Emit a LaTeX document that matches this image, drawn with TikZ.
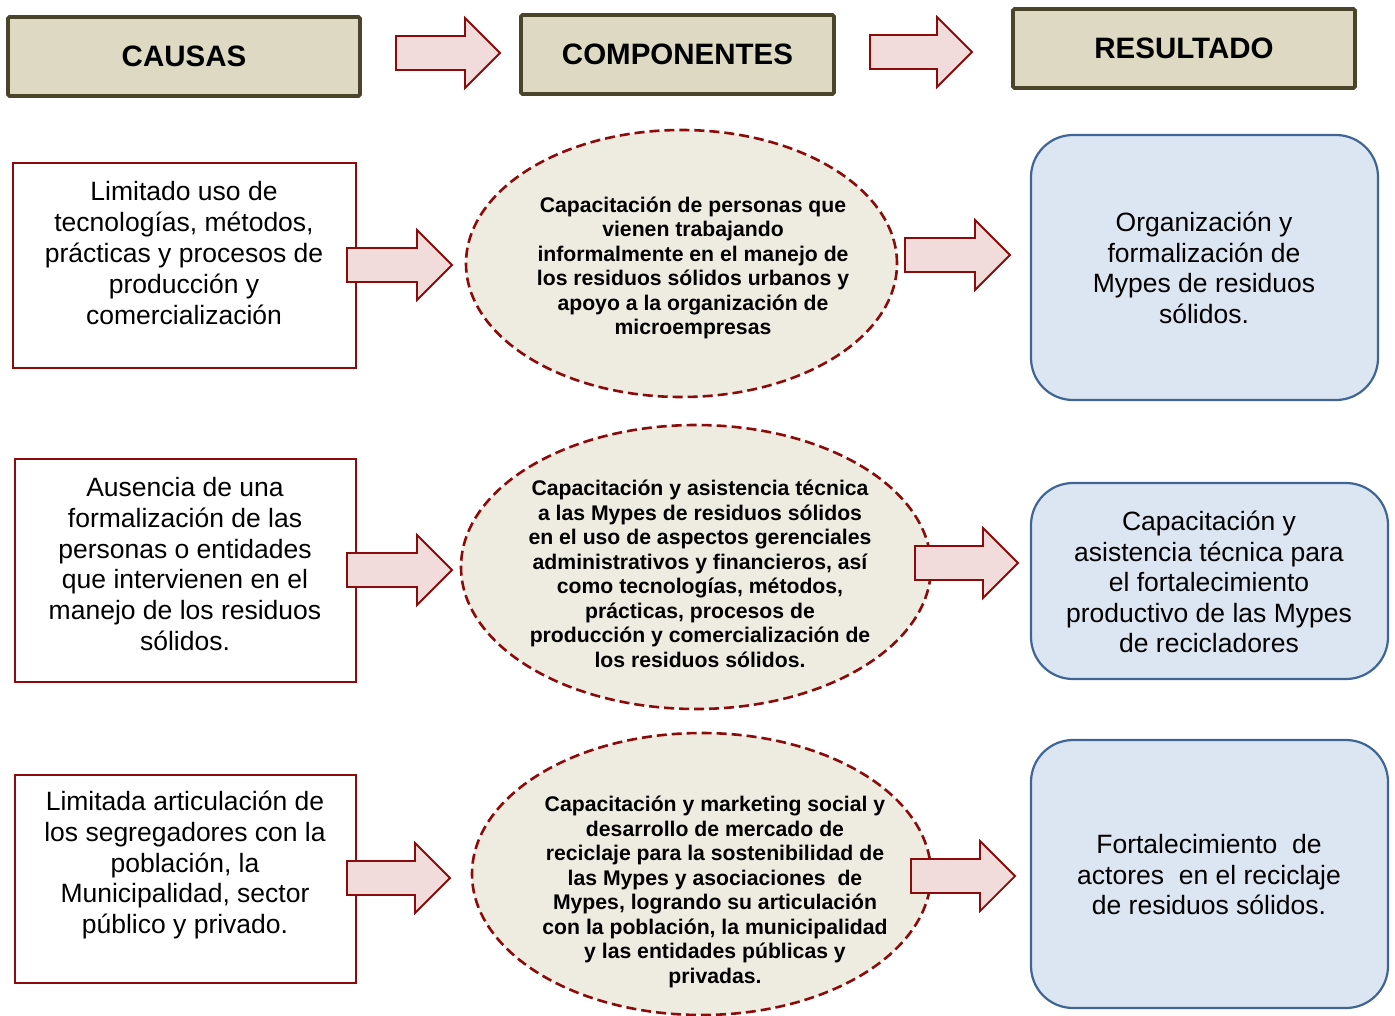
\documentclass[tikz,border=0pt]{standalone}
\usepackage{fontspec}
\setmainfont{Liberation Sans}
\usetikzlibrary{shapes.geometric}
\definecolor{hdrfill}{HTML}{DDD9C3}
\definecolor{hdrline}{HTML}{4A452A}
\definecolor{redline}{HTML}{8B0A0A}
\definecolor{arrfill}{HTML}{F2DCDB}
\definecolor{ellfill}{HTML}{EEECE1}
\definecolor{resfill}{HTML}{DCE6F2}
\definecolor{resline}{HTML}{3F6596}
\newcommand\blockarr[3]{%
  \draw[blockarrow] (#1,#3-17) -- (#2-35,#3-17) -- (#2-35,#3-35) -- (#2,#3)
    -- (#2-35,#3+35) -- (#2-35,#3+17) -- (#1,#3+17) -- cycle;}
\tikzset{
  header/.style={draw=hdrline, line width=3.8pt, fill=hdrfill, rounded corners=1.5pt, inner sep=0},
  headtext/.style={font=\fontsize{29.5}{32}\selectfont\bfseries},
  causebox/.style={draw=redline, line width=2.2pt, fill=white, inner sep=0},
  causetext/.style={font=\fontsize{26.5}{30.8}\selectfont, align=center},
  comp/.style={ellipse, draw=redline, line width=2.6pt, dash pattern=on 10pt off 5pt, fill=ellfill, inner sep=0},
  comptext/.style={font=\fontsize{21.2}{24.5}\selectfont\bfseries, align=center},
  result/.style={draw=resline, line width=2.2pt, fill=resfill, rounded corners=42pt, inner sep=0},
  restext/.style={font=\fontsize{26.5}{30.5}\selectfont, align=center},
  blockarrow/.style={draw=redline, line width=1.8pt, fill=arrfill, line join=miter}
}
\begin{document}
\begin{tikzpicture}[x=1pt,y=-1pt]
\useasboundingbox (0,0) rectangle (1395,1015);
\begin{scope}
\clip (0,0) rectangle (1395,1015);
% headers
\node[header, minimum width=352pt, minimum height=79pt] (hcausas) at (184,56.5) {};
\node[headtext] (tcausas) at (hcausas.center) {CAUSAS};
\node[header, minimum width=313pt, minimum height=79pt] (hcomp) at (677.5,54.5) {};
\node[headtext] (tcomp) at (hcomp.center) {COMPONENTES};
\node[header, minimum width=342pt, minimum height=79pt] (hres) at (1184,48.5) {};
\node[headtext] (tres) at (hres.center) {RESULTADO};
\blockarr{396}{500}{53}
\blockarr{870}{972}{52}

% causes
\node[causebox, minimum width=343pt, minimum height=205pt] (c1) at (184.5,265.5) {};
\node[causetext] (tc1) at (184,253) {Limitado uso de\\tecnologías, métodos,\\prácticas y procesos de\\producción y\\comercialización};
\node[causebox, minimum width=341pt, minimum height=223pt] (c2) at (185.5,570.5) {};
\node[causetext] (tc2) at (185,564) {Ausencia de una\\formalización de las\\personas o entidades\\que intervienen en el\\manejo de los residuos\\sólidos.};
\node[causebox, minimum width=341pt, minimum height=208pt] (c3) at (185.5,879) {};
\node[causetext] (tc3) at (185,865) {Limitada articulación de\\los segregadores con la\\población, la\\Municipalidad, sector\\público y privado.};

% components
\node[comp, minimum width=431pt, minimum height=267pt] (e1) at (681.5,263.5) {};
\node[comptext] (te1) at (693,268) {Capacitación de personas que\\vienen trabajando\\informalmente en el manejo de\\los residuos sólidos urbanos y\\apoyo a la organización de\\microempresas};
\node[comp, minimum width=470pt, minimum height=284pt] (e2) at (696,567) {};
\node[comptext] (te2) at (700,574) {Capacitación y asistencia técnica\\a las Mypes de residuos sólidos\\en el uso de aspectos gerenciales\\administrativos y financieros, así\\como tecnologías, métodos,\\prácticas, procesos de\\producción y comercialización de\\los residuos sólidos.};
\node[comp, minimum width=459pt, minimum height=282pt] (e3) at (701.5,874) {};
\node[comptext] (te3) at (715,892) {Capacitación y marketing social y\\desarrollo de mercado de\\reciclaje para la sostenibilidad de\\las Mypes y asociaciones\ \ de\\Mypes, logrando su articulación\\con la población, la municipalidad\\y las entidades públicas y\\privadas.};

% results
\node[result, minimum width=347pt, minimum height=265pt] (r1) at (1204.5,267.5) {};
\node[restext] (tr1) at (1204,268) {Organización y\\formalización de\\Mypes de residuos\\sólidos.};
\node[result, minimum width=357pt, minimum height=196pt] (r2) at (1209.5,581) {};
\node[restext] (tr2) at (1209,582) {Capacitación y\\asistencia técnica para\\el fortalecimiento\\productivo de las Mypes\\de recicladores};
\node[result, minimum width=357pt, minimum height=268pt] (r3) at (1209.5,874) {};
\node[restext] (tr3) at (1209,875) {Fortalecimiento\ \ de\\actores\ \ en el reciclaje\\de residuos sólidos.};

% row arrows
\blockarr{347}{452}{265}
\blockarr{347}{452}{570}
\blockarr{347}{450}{878}
\blockarr{905}{1010}{255}
\blockarr{915}{1018}{563}
\blockarr{911}{1015}{876}
\end{scope}
\end{tikzpicture}
\end{document}
